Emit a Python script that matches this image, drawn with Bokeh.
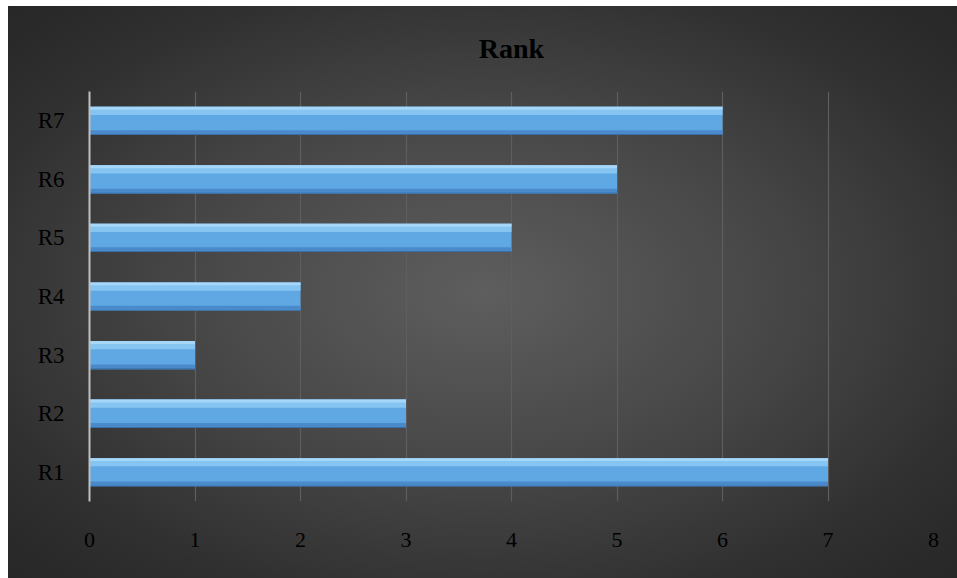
from bokeh.plotting import figure
from bokeh.models import ColumnDataSource, FactorRange
from bokeh.transform import dodge
from bokeh.embed import file_html
from bokeh.resources import INLINE

categories = ["R1", "R2", "R3", "R4", "R5", "R6", "R7"]
values = [7, 3, 1, 2, 4, 5, 6]
x_ticks = [0, 1, 2, 3, 4, 5, 6, 7, 8]

src = ColumnDataSource(dict(cat=categories, val=values))

p = figure(width=949, height=572, output_backend="svg", toolbar_location=None,
           y_range=FactorRange(*categories, range_padding=0),
           x_range=(0, 8), title="Rank")
p.margin = (6, 0, 0, 8)
p.min_border_left = 81
p.min_border_right = 24
p.min_border_top = 85
p.min_border_bottom = 77
p.background_fill_alpha = 0
p.border_fill_alpha = 0
p.outline_line_color = None
p.styles = {"background": "radial-gradient(ellipse at 50% 50%, #5e5e5e 0%, #464646 45%, #2f2f2f 80%, #272727 100%)"}

p.title.align = "center"
p.title.vertical_align = "top"
p.title.text_font = "Liberation Serif"
p.title.text_font_size = "28px"
p.title.text_font_style = "bold"
p.title.text_color = "#000000"
p.title.offset = -23
p.title.standoff = 52

# bars: body, highlight, shade
p.hbar(y="cat", right="val", left=0, height=0.48, source=src,
       fill_color="#5fa8e4", line_color=None)
p.hbar(y=dodge("cat", 0.17, range=p.y_range), right="val", left=0, height=0.14, source=src,
       fill_color="#86c4f1", line_color=None)
p.hbar(y=dodge("cat", 0.215, range=p.y_range), right="val", left=0, height=0.05, source=src,
       fill_color="#a6d6f8", line_color=None)
p.hbar(y=dodge("cat", -0.2, range=p.y_range), right="val", left=0, height=0.08, source=src,
       fill_color="#4a8acb", line_color=None)
p.hbar(y=dodge("cat", -0.235, range=p.y_range), right="val", left=0, height=0.012, source=src,
       fill_color="#33669a", line_color=None)

p.xaxis.ticker = x_ticks
p.xaxis.axis_line_color = None
p.xaxis.major_tick_line_color = None
p.xaxis.minor_tick_line_color = None
p.xaxis.major_label_standoff = 25
p.xaxis.major_label_text_font = "Liberation Serif"
p.xaxis.major_label_text_font_size = "22px"
p.xaxis.major_label_text_color = "#000000"

p.yaxis.axis_line_color = "#c0c0c0"
p.yaxis.axis_line_width = 2
p.yaxis.major_tick_line_color = None
p.yaxis.minor_tick_line_color = None
p.yaxis.major_label_standoff = 19
p.yaxis.major_label_text_font = "Liberation Serif"
p.yaxis.major_label_text_font_size = "23px"
p.yaxis.major_label_text_color = "#000000"

p.xgrid.grid_line_color = "#5e5e5e"
p.xgrid.grid_line_width = 1.2
p.ygrid.grid_line_color = None

open("out.html", "w").write(file_html(p, INLINE))
